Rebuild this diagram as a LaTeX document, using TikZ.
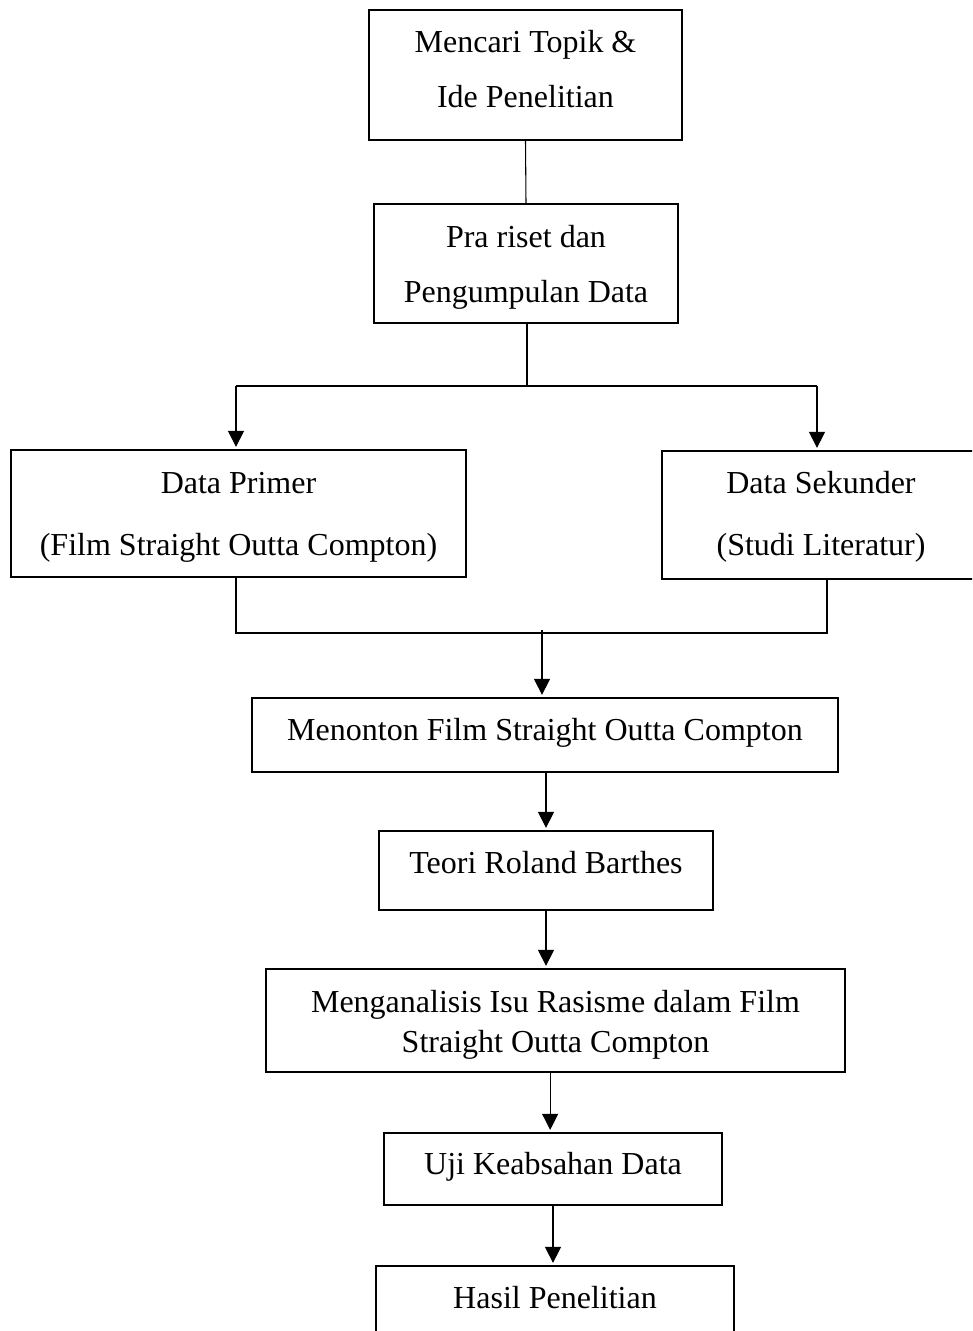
\documentclass[tikz,border=0pt]{standalone}
\usepackage{fontspec}
\setmainfont{Liberation Serif}
\usepackage{tikz}
\usetikzlibrary{arrows.meta}

\newcommand{\tegak}[1]{\rule{0pt}{#1}}

\begin{document}
\begin{tikzpicture}[x=0.75pt, y=-0.75pt,
  kotak/.style 2 args={draw, line width=1.7pt, minimum width=#1*0.75pt, minimum height=#2*0.75pt, inner sep=0pt, align=center, font=\fontsize{24}{28.8}\selectfont},
  naik/.style={execute at end node={\rule[-#1]{0pt}{#1}}},
  panah/.style={line width=0.8pt, -{Triangle[length=12pt, width=12pt]}, shorten >=1.5pt},
  garis/.style={line width=0.8pt}]
  \clip (0,0) rectangle (972,1331);

  \node[kotak={313}{130}, naik=9pt] (topik) at (525.5,75) {Mencari Topik \&\\[12.5pt]Ide Penelitian};
  \node[kotak={304}{119}] (prariset) at (526,263.5) {\tegak{22pt}Pra riset dan\\[12.5pt]Pengumpulan Data};
  \node[kotak={455}{127}] (primer) at (238.5,513.5) {\tegak{22pt}Data Primer\\[17.7pt](Film Straight Outta Compton)};
  \node[kotak={318}{128}] (sekunder) at (821,515) {\tegak{19pt}Data Sekunder\\[17.7pt](Studi Literatur)};
  \node[kotak={586}{74}, naik=8pt] (menonton) at (545,735) {Menonton Film Straight Outta Compton};
  \node[kotak={334}{79}, naik=12pt] (teori) at (546,870.5) {Teori Roland Barthes};
  \node[kotak={579}{103}] (analisis) at (555.5,1020.5) {\tegak{23pt}Menganalisis Isu Rasisme dalam Film\\[1.2pt]Straight Outta Compton};
  \node[kotak={338}{72}, naik=9pt] (uji) at (553,1169) {Uji Keabsahan Data};
  \node[kotak={358}{74}, naik=9pt] (hasil) at (555,1303) {Hasil Penelitian};

  \coordinate (cabang) at (527,386);
  \coordinate (kiri) at (236,386);
  \coordinate (kanan) at (817,386);
  \coordinate (gkiri) at (236,633);
  \coordinate (gkanan) at (827,633);
  \coordinate (gabung) at (542,630);

  \draw[garis] (topik.south) -- (prariset.north);
  \draw[garis] (prariset.south -| cabang) -- (cabang);
  \draw[garis] (kiri) -- (kanan);
  \draw[panah] (kiri) -- (kiri |- primer.north);
  \draw[panah] (kanan) -- (kanan |- sekunder.north);

  \draw[garis] (gkiri |- primer.south) -- (gkiri) -- (gkanan) -- (gkanan |- sekunder.south);
  \draw[panah] (gabung) -- (gabung |- menonton.north);

  \draw[panah] (menonton.south -| teori.south) -- (teori.north);
  \draw[panah] (teori.south) -- (teori.south |- analisis.north);
  \draw[panah] ([xshift=-4pt]analisis.south) -- ([xshift=-4pt]analisis.south |- uji.north);
  \draw[panah] (uji.south) -- (uji.south |- hasil.north);
\end{tikzpicture}
\end{document}
